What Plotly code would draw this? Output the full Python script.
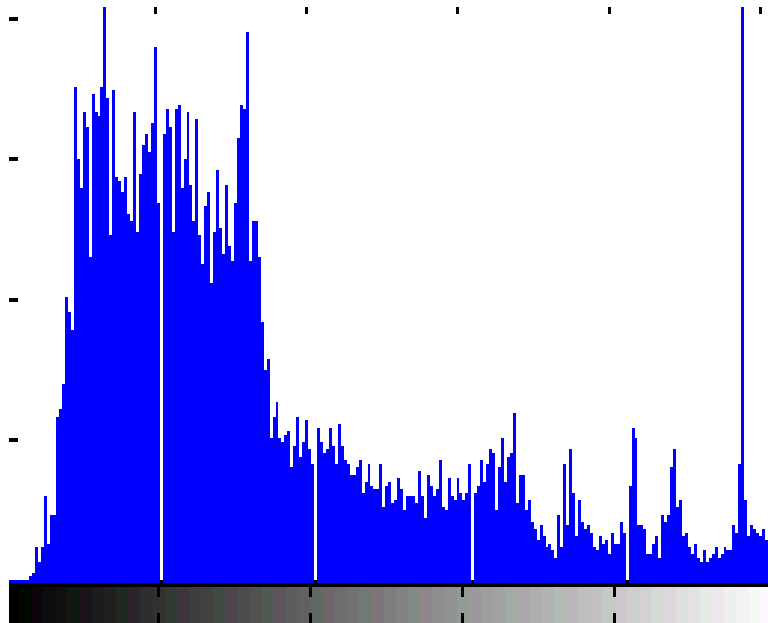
import plotly.graph_objects as go

# Pixel counts for each 8-bit intensity level 0..255 (empty levels are 0)
COUNTS = [
    3, 3, 3, 3, 3, 3, 3,
    31, 52, 237, 130, 237, 601, 259, 465, 465, 1164,
    1221, 1399, 2019, 1912, 1784, 3516, 3003, 2797, 3338, 3231,
    2304, 3466, 3338, 3310, 3516, 4250, 3438, 2461, 3495, 2875,
    2846, 2768, 2875, 2611, 2561, 3338, 2483, 2897, 3103, 3181,
    3053, 3260, 3801, 2690, 0,
    3181, 3359, 3231, 2483, 3359, 3388, 2797, 3003, 3338, 2818, 2561, 3288,
    2461, 2255, 2668, 2768, 2119, 2483, 2925, 2512, 2326, 2818,
    2383, 2276, 2690, 3152, 3388, 3359, 3908, 2276, 2561, 2561,
    2304, 1840, 1499, 1577, 1014, 1164, 1271, 1014, 986, 1036,
    1064, 808, 957, 1164, 879, 986, 1143, 936, 829, 0,
    1084, 986, 907, 936, 1084, 957, 829, 1112, 957, 857, 829, 751,
    751, 811, 857, 622, 701, 829, 672, 651, 651, 829, 522, 669,
    701, 550, 572, 729, 651, 498, 601, 601, 601, 550,
    779, 601, 444, 751, 672, 601, 651, 857, 522, 498,
    729, 601, 572, 729, 622, 572, 622, 829,
    0,
    622, 672, 857, 701, 829, 936, 907, 498, 808, 1014,
    701, 879, 907, 1193, 550, 751, 751, 498, 572, 419,
    369, 291, 394, 318, 240, 262, 213, 162, 465, 240,
    829, 394, 936, 622,
    318, 572, 417, 369, 394, 337, 240, 213, 318, 262,
    287, 189, 337, 262, 262, 417, 337,
    0,
    672, 1087, 1014, 394, 394, 369, 189, 189, 262, 318,
    162, 465, 417, 465, 808, 936, 522, 572, 318, 337,
    240, 189, 262, 162, 133, 213, 133, 162, 189, 240,
    162, 189, 240, 213, 213, 394, 337, 829, 4250,
    572, 318, 394, 369, 337, 318, 369, 287,
]
LEVELS = list(range(len(COUNTS)))

# Axis ticks (no labels are drawn)
HIST_TICKS = [49, 100, 151, 202, 253]
COUNT_TICKS = [1000, 2000, 3000, 4000]
RAMP_TICKS = [50, 100, 150, 200]

# Grey ramp under the histogram: 64 steps of 4 levels each
RAMP_STEPS = list(range(64))

W, H = 768, 623
Y_FLOOR = -19          # bars are drawn from the bottom edge of the plot
Y_TOP = 4086


def ramp_colour(i):
    v = round(i * 255 / 63)
    tint = i % 4
    if tint == 1:      # greenish step
        r, g, b = v - 4, v + 5, v - 3
    elif tint == 2:    # purplish step
        r, g, b = v + 4, v - 4, v + 2
    else:
        r, g, b = v, v, v
    clamp = lambda c: max(0, min(255, c))
    return f"rgb({clamp(r)},{clamp(g)},{clamp(b)})"


bar_len = [c - Y_FLOOR if c > 0 else None for c in COUNTS]

fig = go.Figure()
fig.add_trace(go.Bar(
    x=LEVELS, y=bar_len, base=Y_FLOOR, width=1,
    marker=dict(color="#0000ff", line=dict(width=0)),
    xaxis="x", yaxis="y", hoverinfo="skip",
))
fig.add_trace(go.Bar(
    x=[4 * i + 2 for i in RAMP_STEPS], y=[1] * len(RAMP_STEPS), width=4,
    marker=dict(color=[ramp_colour(i) for i in RAMP_STEPS], line=dict(width=0)),
    xaxis="x2", yaxis="y2", hoverinfo="skip",
))

fig.update_layout(
    width=W, height=H,
    margin=dict(l=9, r=0, t=0, b=0),
    paper_bgcolor="white", plot_bgcolor="white",
    showlegend=False, bargap=0,
    xaxis=dict(
        domain=[0, 1], range=[-0.331, 255.49], side="top",
        anchor="y", showgrid=False, zeroline=False, showline=False,
        tickmode="array", tickvals=HIST_TICKS, showticklabels=False,
        ticks="inside", ticklen=7, tickwidth=3, tickcolor="black",
    ),
    yaxis=dict(
        domain=[40 / H, 616 / H], range=[Y_FLOOR, Y_TOP],
        anchor="x", showgrid=False, zeroline=False, showline=False,
        tickmode="array", tickvals=COUNT_TICKS, showticklabels=False,
        ticks="inside", ticklen=9, tickwidth=4, tickcolor="black",
    ),
    xaxis2=dict(
        domain=[0, 1], range=[0.82, 250.33], anchor="y2",
        showgrid=False, zeroline=False, showline=False, mirror="ticks",
        tickmode="array", tickvals=RAMP_TICKS, showticklabels=False,
        ticks="inside", ticklen=10, tickwidth=3, tickcolor="black",
    ),
    yaxis2=dict(
        domain=[0, 36 / H], range=[0, 1], anchor="x2",
        showgrid=False, zeroline=False, showline=False,
        showticklabels=False, ticks="",
    ),
    shapes=[dict(
        type="rect", xref="paper", yref="paper",
        x0=0, x1=1, y0=36 / H, y1=43 / H,
        fillcolor="black", line=dict(width=0), layer="below",
    )],
)

fig.write_html("out.html")
